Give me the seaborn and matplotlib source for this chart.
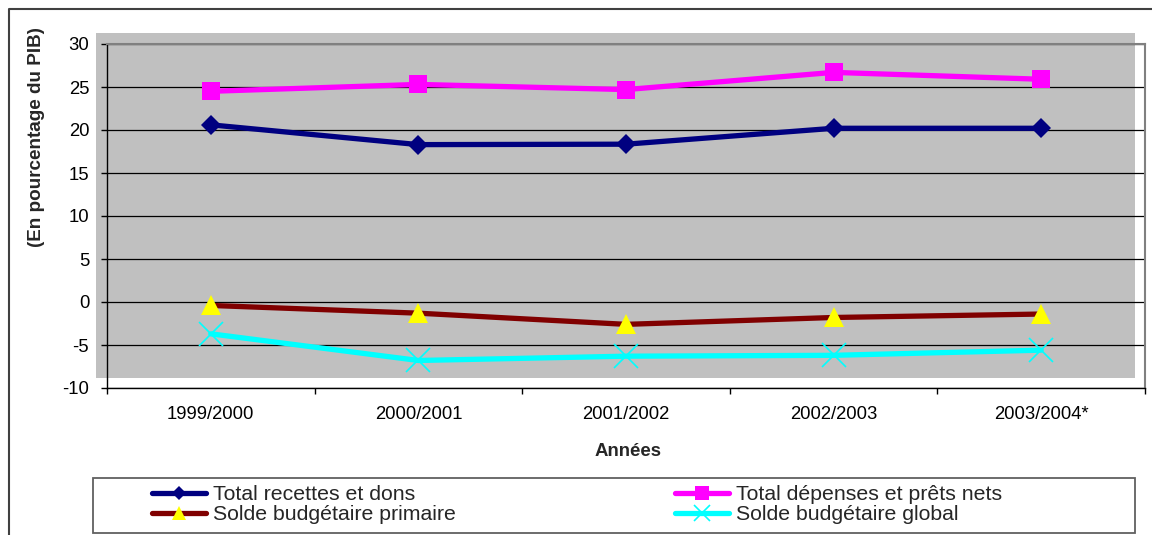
import matplotlib
matplotlib.use("Agg")
import matplotlib.pyplot as plt
from matplotlib.patches import Rectangle
from matplotlib.lines import Line2D
import seaborn as sns

# ---------------------------------------------------------------------------
# Data (en pourcentage du PIB)
# ---------------------------------------------------------------------------
years = ["1999/2000", "2000/2001", "2001/2002", "2002/2003", "2003/2004*"]
recettes = [20.6, 18.3, 18.35, 20.2, 20.2]
depenses = [24.5, 25.3, 24.7, 26.7, 25.9]
solde_primaire = [-0.4, -1.3, -2.6, -1.8, -1.4]
solde_global = [-3.7, -6.8, -6.3, -6.2, -5.6]

labels = ["Total recettes et dons", "Total dépenses et prêts nets",
          "Solde budgétaire primaire", "Solde budgétaire global"]

sns.set_style("white")
plt.rcParams["font.family"] = ["Liberation Sans", "DejaVu Sans"]
plt.rcParams["axes.unicode_minus"] = False

W, H = 1152, 535
fig = plt.figure(figsize=(W / 100, H / 100), dpi=100)


def fx(px):
    return px / W


def fy(py):
    return 1 - py / H


ax = fig.add_axes([fx(107), fy(388), fx(1145) - fx(107), fy(44) - fy(388)])
ax.set_facecolor("none")

# grey plot area, slightly offset like the original export
fig.add_artist(Rectangle((fx(96), fy(378)), fx(1135) - fx(96), fy(33) - fy(378),
                         transform=fig.transFigure, facecolor="#C0C0C0",
                         edgecolor="none", zorder=-1))

lw = 3.8
sns.lineplot(x=years, y=recettes, ax=ax, color="#000080", linewidth=lw,
             marker="D", markersize=10, markeredgewidth=0, sort=False)
sns.lineplot(x=years, y=depenses, ax=ax, color="#FF00FF", linewidth=lw,
             marker="s", markersize=13.5, markeredgewidth=0, sort=False)
sns.lineplot(x=years, y=solde_primaire, ax=ax, color="#800000", linewidth=lw,
             marker="^", markersize=15, markerfacecolor="#FFFF00",
             markeredgewidth=0, sort=False)
sns.lineplot(x=years, y=solde_global, ax=ax, color="#00FFFF", linewidth=lw,
             marker="x", markersize=17, markeredgecolor="#00FFFF",
             markeredgewidth=1.2, sort=False)

ax.set_xlim(-0.5, len(years) - 0.5)
ax.set_ylim(-10, 30)
ax.set_yticks(range(-10, 31, 5))
ax.set_xticks(range(len(years)))
ax.set_xticklabels(years)
ax.set_xticks([i - 0.5 for i in range(len(years) + 1)], minor=True)
ax.set_xlabel("")
ax.set_ylabel("")

ax.grid(axis="y", color="#000000", linewidth=0.9)
ax.set_axisbelow(True)
ax.tick_params(axis="x", which="major", length=0, pad=13, labelsize=13.3,
               colors="black")
ax.tick_params(axis="x", which="minor", length=4, width=1, direction="out",
               color="black", bottom=True)
ax.tick_params(axis="y", length=4.3, width=1, direction="out", pad=8.5,
               labelsize=13.3, colors="black", left=True)

for side in ["left", "bottom"]:
    ax.spines[side].set_color("black")
    ax.spines[side].set_linewidth(1)
for side in ["top", "right"]:
    ax.spines[side].set_color("#808080")
    ax.spines[side].set_linewidth(1.5)

fig.text(fx(37), fy(137), "(En pourcentage du PIB)", rotation=90,
         ha="center", va="center", fontsize=13.6, fontweight="bold")
fig.text(fx(628), fy(451), "Années", ha="center", va="center",
         fontsize=13.4, fontweight="bold")

# legend (column order: recettes, primaire | dépenses, global)
h = ax.get_lines()
handles = [h[0], h[2], h[1], h[3]]
leg_labels = [labels[0], labels[2], labels[1], labels[3]]
fig.legend(handles, leg_labels, ncol=2, loc="upper left",
           bbox_to_anchor=(fx(152), fy(485)), frameon=False, borderpad=0,
           borderaxespad=0, fontsize=15.3, handlelength=2.52,
           handletextpad=0.33, columnspacing=10.35, labelspacing=0.05,
           markerscale=0.7)
fig.add_artist(Rectangle((fx(93), fy(533)), fx(1135) - fx(93), fy(478) - fy(533),
                         transform=fig.transFigure, facecolor="none",
                         edgecolor="#606060", linewidth=1.3))

# outer frame of the original chart (cropped on right / bottom)
fig.add_artist(Line2D([fx(9), fx(9), fx(1152)], [fy(535), fy(9), fy(9)],
                      transform=fig.transFigure, color="#404040", linewidth=1.5))

fig.savefig("out.png", dpi=100)
